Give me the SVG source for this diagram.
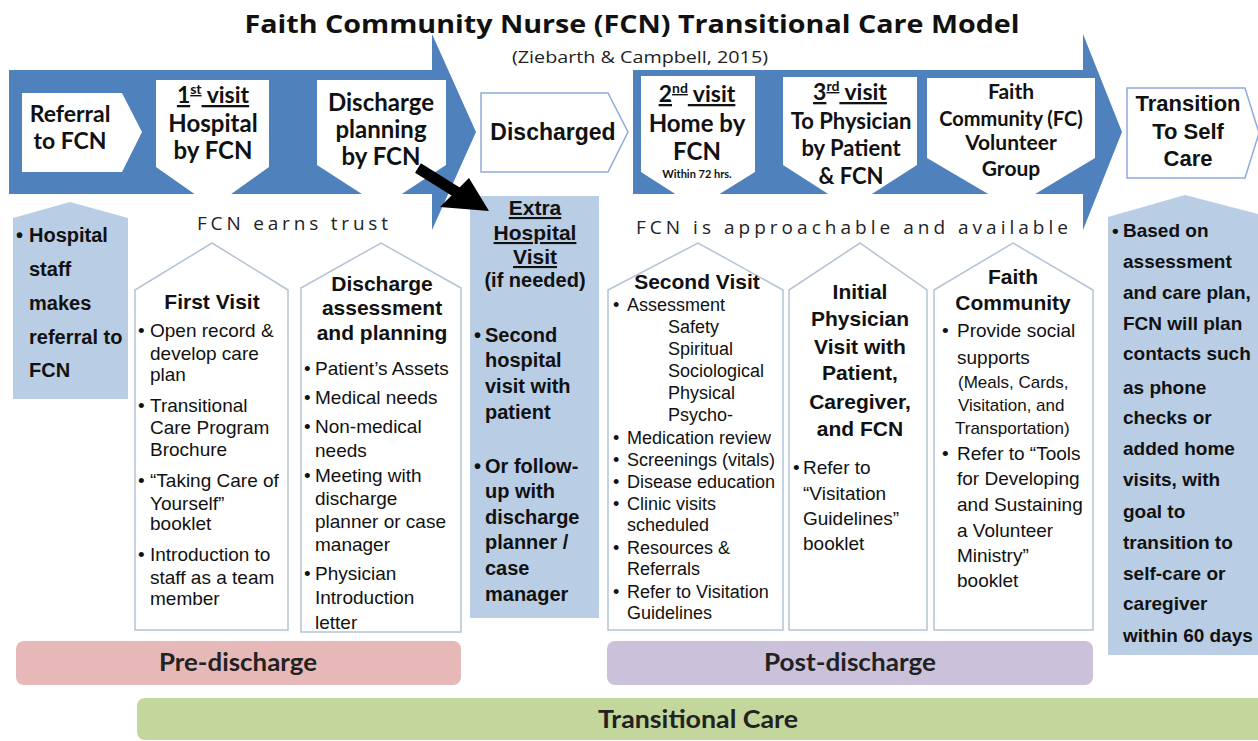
<svg xmlns="http://www.w3.org/2000/svg" width="1258" height="741" viewBox="0 0 1258 741">
<style>
.band{fill:#4f81bd}
.wn{fill:#ffffff}
.ob{fill:#ffffff;stroke:#8eaadb;stroke-width:1.5}
.lb{fill:#b9cde5}
.card{fill:#ffffff;stroke:#b4c3d6;stroke-width:1.5}
.hd{font-family:Lato,"Open Sans",sans-serif;font-weight:700;fill:#111;text-anchor:middle}
.ab{font-family:"Liberation Sans",Arial,sans-serif;font-weight:700;fill:#111}
.ar{font-family:"Liberation Sans",Arial,sans-serif;fill:#111}
.c{text-anchor:middle}
.u{text-decoration:underline}
.sp{font-family:"Open Sans",sans-serif;font-size:19px;fill:#222}
.bar{font-family:Lato,"Open Sans",sans-serif;font-weight:700;font-size:24px;fill:#222;text-anchor:middle}
</style>
<rect width="1258" height="741" fill="#ffffff"/>

<g id="title">
<text x="632" y="33" font-family="'Open Sans',sans-serif" font-weight="700" font-size="25" fill="#111" text-anchor="middle" textLength="775" lengthAdjust="spacingAndGlyphs">Faith Community Nurse (FCN) Transitional Care Model</text>
<text x="640" y="63" font-family="'Open Sans',sans-serif" font-size="16" fill="#222" text-anchor="middle" textLength="256" lengthAdjust="spacingAndGlyphs">(Ziebarth &amp; Campbell, 2015)</text>
</g>

<g id="band-left"><polygon class="band" points="9,70 432,70 432,34 476,132 432,230 432,194 9,194"/></g>
<g id="band-right"><polygon class="band" points="633,70 1083,70 1083,34 1122,132 1083,230 1083,194 633,194"/></g>

<g id="referral">
<polygon class="wn" points="22,93 122,93 142,132 122,172 22,172"/>
<text class="hd" font-size="23" x="70" y="122">Referral</text>
<text class="hd" font-size="23" x="70" y="149">to FCN</text>
</g>

<g id="visit1">
<polygon class="wn" points="156,80 269,80 269,167 213,207 156,167"/>
<text class="hd u" font-size="23" x="213" y="103">1<tspan font-size="14" dy="-9">st</tspan><tspan dy="9"> visit</tspan></text>
<text class="hd" font-size="24" x="213" y="132">Hospital</text>
<text class="hd" font-size="24" x="213" y="159">by FCN</text>
</g>

<g id="discharge-planning">
<polygon class="wn" points="317,80 446,80 446,165 382,207 317,165"/>
<text class="hd" font-size="24" x="381" y="111">Discharge</text>
<text class="hd" font-size="24" x="381" y="138">planning</text>
<text class="hd" font-size="24" x="381" y="165">by FCN</text>
</g>

<g id="discharged">
<polygon class="ob" points="481,93 608,93 628,132 608,172 481,172"/>
<text class="ab c" font-size="23" x="553" y="140">Discharged</text>
</g>

<g id="visit2">
<polygon class="wn" points="641,76 755,76 755,172 697,208 641,172"/>
<text class="hd u" font-size="23" x="697" y="102">2<tspan font-size="14" dy="-9">nd</tspan><tspan dy="9"> visit</tspan></text>
<text class="hd" font-size="24" x="697" y="132">Home by</text>
<text class="hd" font-size="24" x="697" y="160">FCN</text>
<text class="hd" font-size="11" x="697" y="178">Within 72 hrs.</text>
</g>

<g id="visit3">
<polygon class="wn" points="783,77 917,77 917,165 850,208 783,165"/>
<text class="hd u" font-size="23" x="850" y="100">3<tspan font-size="14" dy="-9">rd</tspan><tspan dy="9"> visit</tspan></text>
<text class="hd" font-size="22" x="851" y="129">To Physician</text>
<text class="hd" font-size="22" x="851" y="156">by Patient</text>
<text class="hd" font-size="22" x="851" y="184">&amp; FCN</text>
</g>

<g id="fc-volunteer">
<polygon class="wn" points="927,78 1095,78 1095,158 1012,208 927,158"/>
<text class="hd" font-size="21" x="1011" y="99">Faith</text>
<text class="hd" font-size="20" x="1011" y="126">Community (FC)</text>
<text class="hd" font-size="21" x="1011" y="150">Volunteer</text>
<text class="hd" font-size="21" x="1011" y="176">Group</text>
</g>

<g id="transition">
<polygon class="ob" points="1127,88 1245,88 1259,133 1245,178 1127,178"/>
<text class="ab c" font-size="22" x="1188" y="111">Transition</text>
<text class="ab c" font-size="22" x="1188" y="139">To Self</text>
<text class="ab c" font-size="22" x="1188" y="166">Care</text>
</g>

<g id="labels">
<text class="sp" x="197" y="230" textLength="191" lengthAdjust="spacing">FCN earns trust</text>
<text class="sp" x="636" y="234" textLength="432" lengthAdjust="spacing">FCN is approachable and available</text>
</g>

<g id="hospital-staff">
<polygon class="lb" points="13,218 70,202 128,218 128,399 13,399"/>
<text class="ab" font-size="20" x="16" y="242">•</text>
<text class="ab" font-size="20" x="29" y="242">Hospital</text>
<text class="ab" font-size="20" x="29" y="276">staff</text>
<text class="ab" font-size="20" x="29" y="310">makes</text>
<text class="ab" font-size="20" x="29" y="344">referral to</text>
<text class="ab" font-size="20" x="29" y="377">FCN</text>
</g>

<g id="first-visit">
<polygon class="card" points="135,290 212,243 288,290 288,630 135,630"/>
<text class="ab c" font-size="21" x="212" y="309">First Visit</text>
<g class="ar" font-size="19">
<text x="138" y="337">•</text><text x="150" y="337">Open record &amp;</text>
<text x="150" y="360">develop care</text>
<text x="150" y="381">plan</text>
<text x="138" y="412">•</text><text x="150" y="412">Transitional</text>
<text x="150" y="434">Care Program</text>
<text x="150" y="456">Brochure</text>
<text x="138" y="487">•</text><text x="150" y="487">“Taking Care of</text>
<text x="150" y="510">Yourself”</text>
<text x="150" y="530">booklet</text>
<text x="138" y="561">•</text><text x="150" y="561">Introduction to</text>
<text x="150" y="584">staff as a team</text>
<text x="150" y="605">member</text>
</g>
</g>

<g id="discharge-assessment">
<polygon class="card" points="301,288 381,243 461,288 461,632 301,632"/>
<text class="ab c" font-size="21" x="382" y="291">Discharge</text>
<text class="ab c" font-size="21" x="382" y="315">assessment</text>
<text class="ab c" font-size="21" x="382" y="340">and planning</text>
<g class="ar" font-size="19">
<text x="304" y="375">•</text><text x="315" y="375">Patient’s Assets</text>
<text x="304" y="404">•</text><text x="315" y="404">Medical needs</text>
<text x="304" y="433">•</text><text x="315" y="433">Non-medical</text>
<text x="315" y="457">needs</text>
<text x="304" y="482">•</text><text x="315" y="482">Meeting with</text>
<text x="315" y="505">discharge</text>
<text x="315" y="528">planner or case</text>
<text x="315" y="551">manager</text>
<text x="304" y="580">•</text><text x="315" y="580">Physician</text>
<text x="315" y="604">Introduction</text>
<text x="315" y="629">letter</text>
</g>
</g>

<g id="extra-visit">
<rect class="lb" x="470" y="196" width="129" height="422"/>
<text class="ab c u" font-size="21" x="535" y="215">Extra</text>
<text class="ab c u" font-size="21" x="535" y="240">Hospital</text>
<text class="ab c u" font-size="21" x="535" y="264">Visit</text>
<text class="ab c" font-size="20" x="535" y="287">(if needed)</text>
<g class="ab" font-size="20">
<text x="474" y="342">•</text><text x="485" y="342">Second</text>
<text x="485" y="367">hospital</text>
<text x="485" y="393">visit with</text>
<text x="485" y="419">patient</text>
<text x="474" y="473">•</text><text x="485" y="473">Or follow-</text>
<text x="485" y="498">up with</text>
<text x="485" y="524">discharge</text>
<text x="485" y="549">planner /</text>
<text x="485" y="575">case</text>
<text x="485" y="601">manager</text>
</g>
</g>

<g id="second-visit">
<polygon class="card" points="608,290 698,243 783,290 783,630 608,630"/>
<text class="ab c" font-size="21" x="697" y="289">Second Visit</text>
<g class="ar" font-size="18">
<text x="613" y="311">•</text><text x="627" y="311">Assessment</text>
<text x="668" y="333">Safety</text>
<text x="668" y="355">Spiritual</text>
<text x="668" y="377">Sociological</text>
<text x="668" y="399">Physical</text>
<text x="668" y="421">Psycho-</text>
<text x="613" y="444">•</text><text x="627" y="444">Medication review</text>
<text x="613" y="466">•</text><text x="627" y="466">Screenings (vitals)</text>
<text x="613" y="488">•</text><text x="627" y="488">Disease education</text>
<text x="613" y="510">•</text><text x="627" y="510">Clinic visits</text>
<text x="627" y="531">scheduled</text>
<text x="613" y="554">•</text><text x="627" y="554">Resources &amp;</text>
<text x="627" y="575">Referrals</text>
<text x="613" y="598">•</text><text x="627" y="598">Refer to Visitation</text>
<text x="627" y="619">Guidelines</text>
</g>
</g>

<g id="initial-physician">
<polygon class="card" points="789,290 860,243 927,290 927,630 789,630"/>
<text class="ab c" font-size="21" x="860" y="299">Initial</text>
<text class="ab c" font-size="21" x="860" y="326">Physician</text>
<text class="ab c" font-size="21" x="860" y="354">Visit with</text>
<text class="ab c" font-size="21" x="860" y="380">Patient,</text>
<text class="ab c" font-size="21" x="860" y="409">Caregiver,</text>
<text class="ab c" font-size="21" x="860" y="436">and FCN</text>
<g class="ar" font-size="19">
<text x="793" y="474">•</text><text x="803" y="474">Refer to</text>
<text x="803" y="500">“Visitation</text>
<text x="803" y="525">Guidelines”</text>
<text x="803" y="550">booklet</text>
</g>
</g>

<g id="faith-community">
<polygon class="card" points="934,290 1013,243 1093,290 1093,630 934,630"/>
<text class="ab c" font-size="21" x="1013" y="284">Faith</text>
<text class="ab c" font-size="21" x="1013" y="310">Community</text>
<g class="ar" font-size="19">
<text x="942" y="337">•</text><text x="957" y="337">Provide social</text>
<text x="957" y="364">supports</text>
<text x="958" y="388" font-size="17">(Meals, Cards,</text>
<text x="958" y="411" font-size="17">Visitation, and</text>
<text x="955" y="434" font-size="17">Transportation)</text>
<text x="942" y="460">•</text><text x="957" y="460">Refer to “Tools</text>
<text x="957" y="485">for Developing</text>
<text x="957" y="511">and Sustaining</text>
<text x="957" y="537">a Volunteer</text>
<text x="957" y="562">Ministry”</text>
<text x="957" y="587">booklet</text>
</g>
</g>

<g id="self-care-plan">
<polygon class="lb" points="1108,217 1185,195 1258,214 1258,655 1108,655"/>
<g class="ab" font-size="19">
<text x="1112" y="237">•</text><text x="1123" y="237">Based on</text>
<text x="1123" y="268">assessment</text>
<text x="1123" y="299">and care plan,</text>
<text x="1123" y="330">FCN will plan</text>
<text x="1123" y="360">contacts such</text>
<text x="1123" y="394">as phone</text>
<text x="1123" y="424">checks or</text>
<text x="1123" y="455">added home</text>
<text x="1123" y="486">visits, with</text>
<text x="1123" y="518">goal to</text>
<text x="1123" y="549">transition to</text>
<text x="1123" y="580">self-care or</text>
<text x="1123" y="610">caregiver</text>
<text x="1123" y="642">within 60 days</text>
</g>
</g>

<g id="pre-discharge">
<rect x="16" y="641" width="445" height="44" rx="8" fill="#e6b9b8"/>
<text class="bar" x="238" y="671" textLength="158" lengthAdjust="spacingAndGlyphs">Pre-discharge</text>
</g>
<g id="post-discharge">
<rect x="607" y="641" width="486" height="44" rx="8" fill="#ccc1da"/>
<text class="bar" x="850" y="671" textLength="172" lengthAdjust="spacingAndGlyphs">Post-discharge</text>
</g>
<g id="transitional-care">
<rect x="137" y="698" width="1130" height="42" rx="8" fill="#c3d69b"/>
<text class="bar" x="698" y="728" textLength="200" lengthAdjust="spacingAndGlyphs">Transitional Care</text>
</g>

<g id="connectors">
<line x1="418" y1="168" x2="458" y2="193" stroke="#000" stroke-width="11"/>
<polygon points="489,211 440,207 469,178" fill="#000"/>
</g>
</svg>
